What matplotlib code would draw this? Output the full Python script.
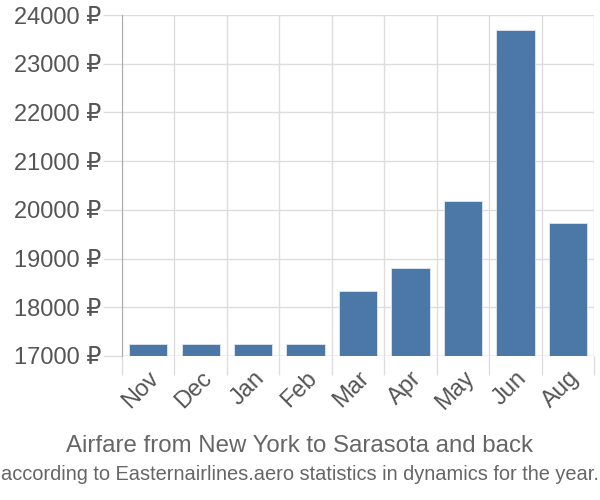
import matplotlib.pyplot as plt
import numpy as np

months = ["Nov", "Dec", "Jan", "Feb", "Mar", "Apr", "May", "Jun", "Aug"]
prices = [17240, 17240, 17240, 17240, 18340, 18810, 20190, 23690, 19730]
yticks = [17000, 18000, 19000, 20000, 21000, 22000, 23000, 24000]

plt.rcParams['font.family'] = ['Liberation Sans', 'DejaVu Sans']

fig = plt.figure(figsize=(6, 5), dpi=100)
ax = fig.add_axes([0.2033, 0.288, 0.787, 0.682])

x = np.arange(len(months))
ax.bar(x, prices, width=0.73, color="#4c78a8", edgecolor="#dfe6ee", linewidth=0.6, zorder=3)

ax.set_xlim(-0.5, len(months) - 0.5)
ax.set_ylim(17000, 24000)

ax.set_xticks(x)
ax.set_xticklabels(months, rotation=45, ha="right", rotation_mode="anchor")
ax.set_xticks(np.arange(len(months) + 1) - 0.5, minor=True)
ax.tick_params(axis="x", which="major", length=0, labelsize=17, labelcolor="#555555", pad=8)
ax.tick_params(axis="x", which="minor", length=14, color="#dddddd", width=1)

ax.set_yticks(yticks)
ax.set_yticklabels([f"{v} ₽" for v in yticks])
ax.tick_params(axis="y", length=14, color="#dddddd", width=1, labelsize=17, labelcolor="#555555", pad=1)

ax.grid(axis="y", color="#dddddd", linewidth=1, zorder=0)
ax.grid(axis="x", which="minor", color="#dddddd", linewidth=1, zorder=0)

for s in ["top", "right", "bottom"]:
    ax.spines[s].set_visible(False)
ax.spines["left"].set_color("#aaaaaa")
ax.spines["left"].set_bounds(17000, 24000)
ax.axhline(17000, color="#cccccc", linewidth=1, zorder=2)

fig.text(0.5, 0.108, "Airfare from New York to Sarasota and back", ha="center", va="center",
         fontsize=17.3, color="#666666")
fig.text(0.5, 0.05, "according to Easternairlines.aero statistics in dynamics for the year.",
         ha="center", va="center", fontsize=14.4, color="#666666",
         family=["Liberation Sans Narrow", "Liberation Sans"])

fig.savefig("out.png", dpi=100)
